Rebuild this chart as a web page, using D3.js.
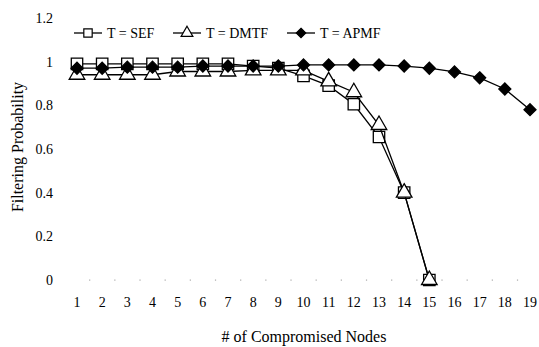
<!DOCTYPE html>
<html>
<head>
<meta charset="utf-8">
<script src="https://cdn.jsdelivr.net/npm/d3@7"></script>
<style>
  body { margin: 0; background: #fff; }
</style>
</head>
<body>
<div id="chart"></div>
<script>
// chart values
var nodes = d3.range(1, 20);
var yTicks = [0, 0.2, 0.4, 0.6, 0.8, 1, 1.2];
var sefVals = [0.99, 0.99, 0.99, 0.99, 0.99, 0.99, 0.99, 0.98, 0.97, 0.935, 0.89, 0.805, 0.655, 0.40, 0];
var dmtfVals = [0.94, 0.94, 0.94, 0.94, 0.955, 0.955, 0.955, 0.96, 0.96, 0.96, 0.91, 0.86, 0.71, 0.40, 0];
var apmfVals = [0.97, 0.97, 0.975, 0.975, 0.975, 0.98, 0.98, 0.98, 0.98, 0.985, 0.985, 0.985, 0.985, 0.98, 0.97, 0.953, 0.926, 0.875, 0.78];
var seriesNames = ["T = SEF", "T = DMTF", "T = APMF"];

var width = 539, height = 347;
var margin = { top: 18, right: 9, bottom: 67, left: 77 };
var serif = "Liberation Serif";

var svg = d3.select('#chart').append('svg')
  .attr('width', width)
  .attr('height', height)
  .attr('font-family', serif);

var x = d3.scaleLinear().domain([1, 19]).range([margin.left, width - margin.right]);
var y = d3.scaleLinear().domain([0, 1.2]).range([height - margin.bottom, margin.top]);

// y tick labels
svg.append('g').selectAll('text')
  .data(yTicks)
  .enter().append('text')
  .attr('x', 53)
  .attr('y', d => y(d))
  .attr('dy', '0.35em')
  .attr('text-anchor', 'end')
  .attr('font-family', serif)
  .attr('font-size', 14)
  .text(d => d);

// x tick labels
svg.append('g').selectAll('text')
  .data(nodes)
  .enter().append('text')
  .attr('x', d => x(d))
  .attr('y', y(0) + 27)
  .attr('text-anchor', 'middle')
  .attr('font-family', serif)
  .attr('font-size', 14)
  .text(d => d);

// faint dotted axis marks between categories
svg.append('g').selectAll('rect')
  .data(nodes)
  .enter().append('rect')
  .attr('x', d => x(d + 0.5) - 0.5)
  .attr('y', y(0) - 0.5)
  .attr('width', 1.2)
  .attr('height', 1.2)
  .attr('fill', '#aaa');

// axis titles
svg.append('text')
  .attr('transform', `translate(23,${147}) rotate(-90)`)
  .attr('text-anchor', 'middle')
  .attr('font-family', serif)
  .attr('font-size', 16)
  .text('Filtering Probability');

svg.append('text')
  .attr('x', 304)
  .attr('y', 342)
  .attr('text-anchor', 'middle')
  .attr('font-family', serif)
  .attr('font-size', 16)
  .text('# of Compromised Nodes');

var line = d3.line()
  .x((d, i) => x(i + 1))
  .y(d => y(d));

// square-ish diamond (d3's own diamond is too tall)
var flatDiamond = {
  draw: function(ctx, size) {
    var r = Math.sqrt(size / 2);
    ctx.moveTo(0, -r);
    ctx.lineTo(r, 0);
    ctx.lineTo(0, r);
    ctx.lineTo(-r, 0);
    ctx.closePath();
  }
};

var symSquare = d3.symbol().type(d3.symbolSquare).size(130);
var symTriangle = d3.symbol().type(d3.symbolTriangle).size(105);
var symDiamond = d3.symbol().type(flatDiamond).size(72);

var series = [
  { name: seriesNames[0], vals: sefVals, sym: symSquare, fill: '#fff', lsize: 70 },
  { name: seriesNames[1], vals: dmtfVals, sym: symTriangle, fill: '#fff', lsize: 60 },
  { name: seriesNames[2], vals: apmfVals, sym: symDiamond, fill: '#000', lsize: 45 }
];

series.forEach(function(s) {
  let g = svg.append('g');
  g.append('path')
    .datum(s.vals)
    .attr('d', line)
    .attr('fill', 'none')
    .attr('stroke', '#000')
    .attr('stroke-width', 1.3);
  g.selectAll('path.mark')
    .data(s.vals)
    .enter().append('path')
    .attr('class', 'mark')
    .attr('transform', (d, i) => `translate(${x(i + 1)},${y(d)})`)
    .attr('d', s.sym())
    .attr('fill', s.fill)
    .attr('stroke', '#000')
    .attr('stroke-width', 1.3);
});

// legend
var legendX = [74, 173, 287];
var legend = svg.append('g');
series.forEach(function(s, i) {
  let lg = legend.append('g').attr('transform', `translate(${legendX[i]},33)`);
  lg.append('line')
    .attr('x1', 0).attr('x2', 28)
    .attr('stroke', '#000').attr('stroke-width', 1.3);
  lg.append('path')
    .attr('transform', 'translate(14,0)')
    .attr('d', s.sym.size(s.lsize)())
    .attr('fill', s.fill)
    .attr('stroke', '#000')
    .attr('stroke-width', 1.2);
  lg.append('text')
    .attr('x', 33)
    .attr('dy', '0.35em')
    .attr('font-family', serif)
    .attr('font-size', 14)
    .text(s.name);
});
</script>
</body>
</html>
